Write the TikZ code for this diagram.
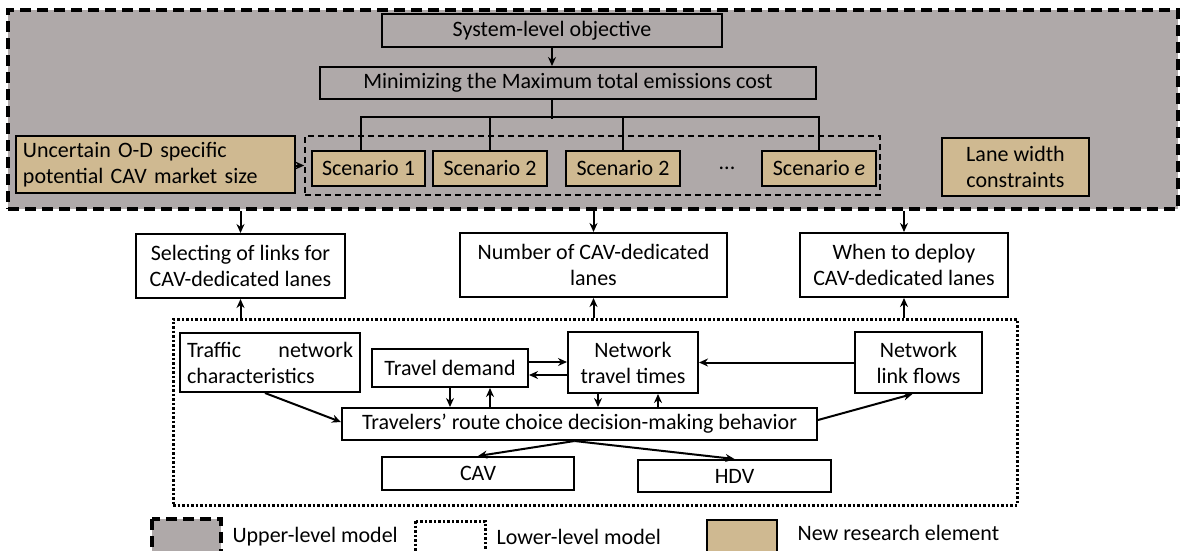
\documentclass[tikz,border=0pt]{standalone}
\usepackage{fontspec}
\setmainfont{Carlito}
\usetikzlibrary{arrows.meta}
\definecolor{uppergray}{HTML}{AFA9A9}
\definecolor{newtan}{HTML}{CFB991}

\begin{document}
\begin{tikzpicture}[x=1pt,y=-1pt,
    box/.style={draw,line width=2pt,align=center,inner sep=2pt,font=\fontsize{22}{26}\selectfont},
    newbox/.style={box,fill=newtan},
    arr/.style={-{Stealth[length=9pt,width=8pt]},line width=2pt},
    legendtext/.style={anchor=west,font=\fontsize{22}{26}\selectfont}]
    \clip (0,0) rectangle (1183,550);
    % upper-level model
    \node[draw,line width=3.5pt,dash pattern=on 11pt off 6pt,fill=uppergray,minimum width=1170pt,minimum height=199pt] (upper) at (593,109.5) {};
    \node[box,minimum width=340pt,minimum height=33pt] (sys) at (552,30.5) {System-level objective};
    \node[box,minimum width=496pt,minimum height=32pt] (mini) at (568,83) {Minimizing the Maximum total emissions cost};
    \node[draw,line width=1.6pt,dash pattern=on 6pt off 4pt,minimum width=575pt,minimum height=59pt] (scen) at (592.5,165.5) {};
    \node[newbox,minimum width=279pt,minimum height=57pt,align=left,text width=265pt] (unc) at (155.5,164.5) {Uncertain O-D specific\\potential CAV market size};
    \node[newbox,minimum width=113pt,minimum height=35pt] (s1) at (368.5,168.5) {Scenario 1};
    \node[newbox,minimum width=114pt,minimum height=35pt] (s2) at (490,168.5) {Scenario 2};
    \node[newbox,minimum width=114pt,minimum height=35pt] (s3) at (623,168.5) {Scenario 2};
    \node[font=\fontsize{22}{26}\selectfont] (dots) at (727,168.5) {...};
    \node[newbox,minimum width=114pt,minimum height=35pt] (se) at (819,168.5) {Scenario \textit{e}};
    \node[newbox,minimum width=147pt,minimum height=58pt] (lane) at (1015.5,167) {Lane width\\constraints};
    \draw[arr] (sys.south) -- (sys.south |- mini.north);
    \draw[line width=2pt] (sys.south |- mini.south) -- ++(0,19);
    \draw[line width=2pt] ([xshift=-8pt]s1.north) -- ++(0,-33) -| (se.north);
    \draw[line width=2pt] (s2.north) -- ++(0,-33);
    \draw[line width=2pt] (s3.north) -- ++(0,-33);
    \draw[arr] (unc.east |- scen.west) -- (scen.west);
    % decisions
    \node[box,minimum width=209pt,minimum height=64pt] (sel) at (240.5,266) {Selecting of links for\\CAV-dedicated lanes};
    \node[box,minimum width=267pt,minimum height=64pt] (num) at (593.5,265) {Number of CAV-dedicated\\lanes};
    \node[box,minimum width=208pt,minimum height=64pt] (when) at (904,265) {When to deploy\\CAV-dedicated lanes};
    \draw[arr] (sel.north |- upper.south) -- (sel.north);
    \draw[arr] (num.north |- upper.south) -- (num.north);
    \draw[arr] (when.north |- upper.south) -- (when.north);
    % lower-level model
    \node[draw,line width=3pt,dash pattern=on 2.5pt off 2pt,minimum width=844pt,minimum height=186pt] (lower) at (595,412) {};
    \draw[arr] (sel.south |- lower.north) -- (sel.south);
    \draw[arr] (num.south |- lower.north) -- (num.south);
    \draw[arr] (when.south |- lower.north) -- (when.south);
    \node[box,minimum width=180pt,minimum height=59pt,align=left,text width=166pt] (tnc) at (270,362.5) {Traffic\hfill network\\characteristics};
    \node[box,minimum width=156pt,minimum height=38pt] (td) at (450,368) {Travel demand};
    \node[box,minimum width=130pt,minimum height=61pt] (ntt) at (633,362.5) {Network\\travel times};
    \node[box,minimum width=127pt,minimum height=61pt] (nlf) at (918.5,362.5) {Network\\link flows};
    \node[box,minimum width=475pt,minimum height=32pt] (trv) at (579.5,424) {Travelers’ route choice decision-making behavior};
    \node[box,minimum width=192pt,minimum height=33pt] (cav) at (478,473.5) {CAV};
    \node[box,minimum width=193pt,minimum height=32pt] (hdv) at (734.5,476) {HDV};
    \draw[arr] ([yshift=6pt]td.east) -- ([yshift=6pt]td.east -| ntt.west);
    \draw[arr] ([yshift=-7pt]td.east -| ntt.west) -- ([yshift=-7pt]td.east);
    \draw[arr] (td.south) -- (td.south |- trv.north);
    \draw[arr] ([xshift=40pt]td.south |- trv.north) -- ([xshift=40pt]td.south);
    \draw[arr] ([xshift=-35pt]ntt.south) -- ([xshift=-35pt]ntt.south |- trv.north);
    \draw[arr] ([xshift=25pt]ntt.south |- trv.north) -- ([xshift=25pt]ntt.south);
    \draw[arr] (nlf.west) -- (nlf.west -| ntt.east);
    \draw[arr] ([xshift=-5pt]tnc.south) -- ([yshift=2pt]trv.west);
    \draw[arr] ([yshift=4pt]trv.east) -- ([xshift=-6pt]nlf.south);
    \draw[arr] ([xshift=-5pt]trv.south) -- (cav.north);
    \draw[arr] ([xshift=-5pt]trv.south) -- (hdv.north);
    % legend
    \draw[line width=3.5pt,dash pattern=on 11pt off 6pt,fill=uppergray] (152,519) rectangle (221,556);
    \node[legendtext] (uplab) at (229,537) {Upper-level model};
    \draw[line width=3pt,dash pattern=on 2.5pt off 2pt] (415,521) rectangle (485,556);
    \node[legendtext] (lowlab) at (493,537) {Lower-level model};
    \draw[line width=1.2pt,fill=newtan] (707,520) rectangle (777,556);
    \node[legendtext] (newlab) at (794,533) {New research element};
\end{tikzpicture}
\end{document}
